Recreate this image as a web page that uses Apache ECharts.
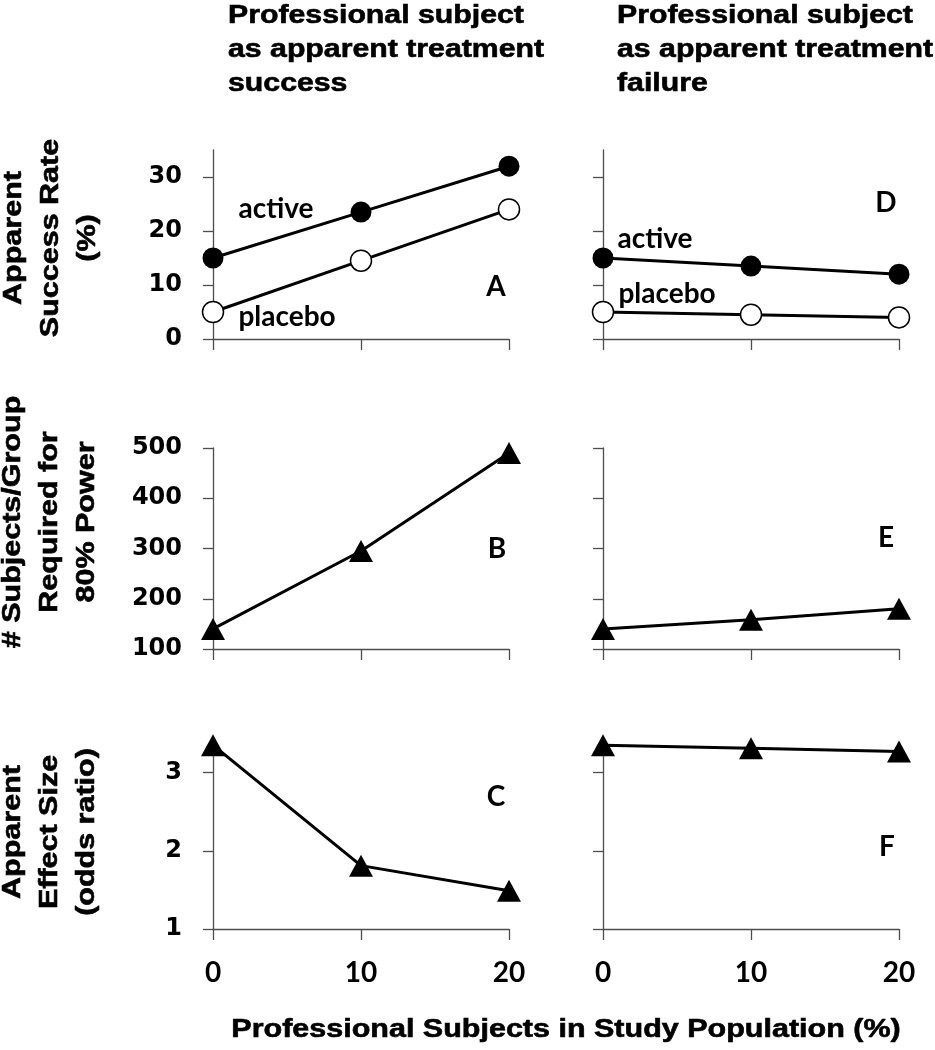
<!DOCTYPE html>
<html>
<head>
<meta charset="utf-8">
<script src="https://cdn.jsdelivr.net/npm/echarts@6/dist/echarts.min.js"></script>
<style>
    html, body { margin: 0; padding: 0; background: #fff; }
    #main { width: 935px; height: 1050px; }
</style>
</head>
<body>
<div id="main"></div>
<script>
// % professional subjects in the study population
const pct = [0, 10, 20];

// apparent success rate (%)
const successActive = [15, 23.5, 32];
const successPlacebo = [5, 14.5, 24];
const failureActive = [15, 13.5, 12];
const failurePlacebo = [5, 4.5, 4];

// subjects per group for 80% power
const nSuccess = [140, 295, 490];
const nFailure = [140, 158, 180];

// apparent effect size (odds ratio)
const orSuccess = [3.35, 1.81, 1.49];
const orFailure = [3.35, 3.31, 3.27];

// tick labels
const pctTicks = [0, 10, 20];
const rateTicks = [0, 10, 20, 30];
const sizeTicks = [100, 200, 300, 400, 500];
const oddsTicks = [1, 2, 3];

const axisColor = '#4d4d4d';
const cols = [{left: 213, width: 296}, {left: 603, width: 296}];
const rows = [
    {top: 150, height: 189, min: 0, max: 35, ticks: rateTicks},
    {top: 448, height: 201, min: 100, max: 500, ticks: sizeTicks},
    {top: 753, height: 176, min: 1, max: 3.25, ticks: oddsTicks}
];

const chartDom = document.getElementById('main');
let myChart = echarts.init(chartDom);

let grids = [], xAxes = [], yAxes = [];
for (let i = 0; i < 6; i++) {
    const row = rows[Math.floor(i / 2)];
    const col = cols[i % 2];
    grids.push({left: col.left, top: row.top, width: col.width, height: row.height});
    xAxes.push({
        gridIndex: i,
        type: 'value',
        min: 0,
        max: 20,
        interval: 10,
        axisLine: {show: true, onZero: false, lineStyle: {color: axisColor, width: 1.3}},
        axisTick: {show: true, length: 11, lineStyle: {color: axisColor, width: 1.3}},
        axisLabel: {
            show: i >= 4,
            margin: 30,
            color: '#000',
            fontFamily: 'Lato',
            fontWeight: 'bold',
            fontSize: 28,
            customValues: pctTicks
        },
        splitLine: {show: false}
    });
    yAxes.push({
        gridIndex: i,
        type: 'value',
        min: row.min,
        max: row.max,
        axisLine: {show: true, onZero: false, lineStyle: {color: axisColor, width: 1.3}},
        axisTick: {show: true, length: 10, customValues: row.ticks, lineStyle: {color: axisColor, width: 1.3}},
        axisLabel: {
            show: i % 2 === 0,
            customValues: row.ticks,
            margin: 31,
            color: '#000',
            fontFamily: 'DejaVu Sans',
            fontWeight: 'bold',
            fontSize: 24
        },
        splitLine: {show: false}
    });
}

const pairs = (vals) => pct.map((x, k) => [x, vals[k]]);

const filled = {symbol: 'circle', symbolSize: 21, itemStyle: {color: '#000'}};
const open = {symbol: 'circle', symbolSize: 21, itemStyle: {color: '#fff', borderColor: '#000', borderWidth: 1.5}};
const tri = {symbol: 'triangle', symbolSize: [24, 22], itemStyle: {color: '#000'}};

const mk = (idx, vals, marker) => Object.assign({
    type: 'line',
    xAxisIndex: idx,
    yAxisIndex: idx,
    data: pairs(vals),
    lineStyle: {color: '#000', width: 3},
    clip: false,
    silent: true
}, marker);

const txt = (text, x, y, font, extra) => ({
    type: 'text',
    x: x,
    y: y,
    silent: true,
    style: Object.assign({
        text: text,
        fill: '#000',
        font: font,
        align: 'center',
        verticalAlign: 'middle'
    }, extra || {})
});

// the source figure's Arial text is stretched along the writing direction, hence scaleX
const headFont = 'bold 25px "Liberation Sans"';
const noteFont = 'bold 28px Lato';
const stretch = 1.22;
const heavy = {stroke: '#000', lineWidth: 0.6};

const heading = (text, x) => Object.assign(
    txt(text, x, -1, headFont, Object.assign({align: 'left', verticalAlign: 'top', lineHeight: 34}, heavy)),
    {scaleX: 1.21}
);

const yTitle = (text, x, y) => Object.assign(
    txt(text, x, y, headFont, Object.assign({lineHeight: 37}, heavy)),
    {rotation: Math.PI / 2, scaleX: stretch}
);

let option = {
    animation: false,
    grid: grids,
    xAxis: xAxes,
    yAxis: yAxes,
    series: [
        mk(0, successPlacebo, open),
        mk(0, successActive, filled),
        mk(1, failurePlacebo, open),
        mk(1, failureActive, filled),
        mk(2, nSuccess, tri),
        mk(3, nFailure, tri),
        mk(4, orSuccess, tri),
        mk(5, orFailure, tri)
    ],
    graphic: [
        heading('Professional subject\nas apparent treatment\nsuccess', 228),
        heading('Professional subject\nas apparent treatment\nfailure', 617),
        yTitle('Apparent\nSuccess Rate\n(%)', 51, 238),
        yTitle('# Subjects/Group\nRequired for\n80% Power', 50, 522),
        yTitle('Apparent\nEffect Size\n(odds ratio)', 50, 832),
        Object.assign(txt('Professional Subjects in Study Population (%)', 566, 1030, headFont, heavy), {scaleX: stretch}),
        txt('A', 496, 287, noteFont),
        txt('B', 497, 549, noteFont),
        txt('C', 496, 797, noteFont),
        txt('D', 886, 203, noteFont),
        txt('E', 886, 538, noteFont),
        txt('F', 887, 847, noteFont),
        txt('active', 276, 209, noteFont),
        txt('placebo', 287, 317, noteFont),
        txt('active', 655, 239, noteFont),
        txt('placebo', 667, 294, noteFont)
    ]
};

option && myChart.setOption(option);
</script>
</body>
</html>
